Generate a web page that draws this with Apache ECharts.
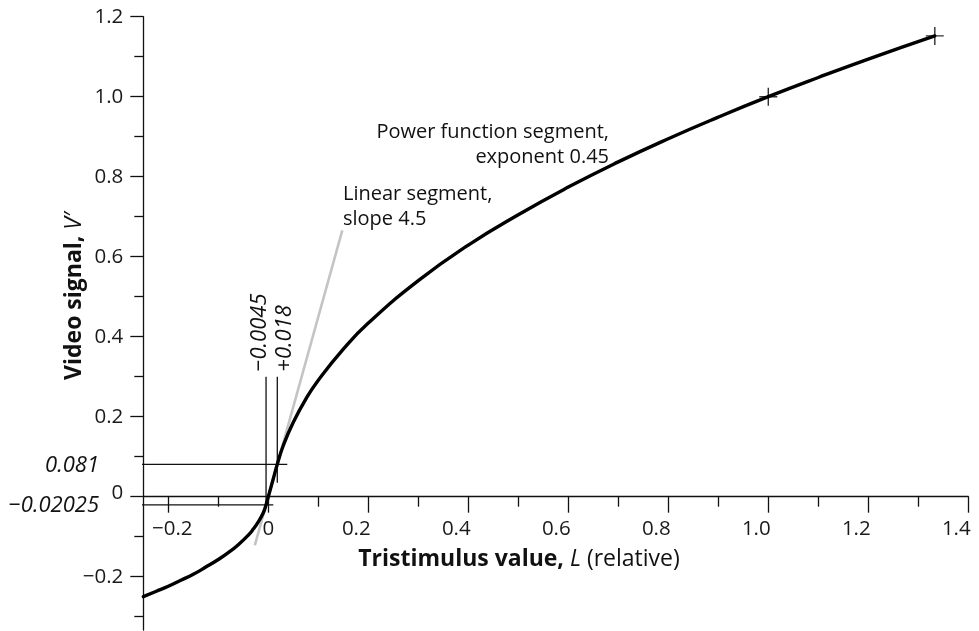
<!DOCTYPE html>
<html>
<head>
<meta charset="utf-8">
<script src="https://cdn.jsdelivr.net/npm/echarts@6.0.0/dist/echarts.min.js"></script>
<style>
  html, body { margin: 0; padding: 0; background: #ffffff; }
  #chart { width: 979px; height: 631px; }
</style>
</head>
<body>
<div id="chart"></div>
<script>
// Transfer curve: tristimulus value L -> video signal V'
const curveL = [-0.25, -0.225, -0.2, -0.175, -0.15, -0.125, -0.1, -0.08, -0.06, -0.04, -0.03, -0.02, -0.01, -0.0045,
  0, 0.009, 0.018, 0.03, 0.05, 0.075, 0.1, 0.15, 0.2, 0.3, 0.4, 0.5, 0.6, 0.7, 0.8, 0.9, 1.0, 1.1, 1.2, 1.333];
const curveV = [-0.25, -0.237, -0.224, -0.209, -0.194, -0.176, -0.157, -0.140, -0.120, -0.096, -0.081, -0.063, -0.040, -0.02025,
  0, 0.0405, 0.081, 0.128, 0.186, 0.244, 0.291, 0.369, 0.434, 0.540, 0.629, 0.705, 0.774, 0.837, 0.895, 0.949, 1.0, 1.048, 1.094, 1.152];

// Extension of the linear segment (slope 4.5)
const linearL = [-0.027, 0.148];
const linearV = [-0.1215, 0.666];

// Marked points on the curve
const markL = [1.0, 1.333];
const markV = [1.0, 1.152];

// Breakpoints of the linear segment
const breakL = [-0.0045, 0.018];
const breakV = [-0.02025, 0.081];
const breakLText = ['\u22120.0045', '+0.018'];
const breakVText = ['\u22120.02025', '0.081'];

// Tick values
const xMajor = [-0.2, 0, 0.2, 0.4, 0.6, 0.8, 1.0, 1.2, 1.4];
const xMinor = [-0.1, 0.1, 0.3, 0.5, 0.7, 0.9, 1.1, 1.3];
const yMajor = [-0.2, 0, 0.2, 0.4, 0.6, 0.8, 1.0, 1.2];
const yMinor = [-0.3, -0.1, 0.1, 0.3, 0.5, 0.7, 0.9, 1.1];

const FONT = '"Open Sans", "DejaVu Sans", sans-serif';
const INK = '#111111';
const TICK_FS = 20.5;
const TITLE_FS = 23;
const NOTE_FS = 20;
const VALUE_FS = 22;

function fmt(v) {
  if (Math.abs(v) < 1e-9) return '0';
  const s = Math.abs(v).toFixed(1);
  return v < 0 ? '\u2212' + s : s;
}

const chart = echarts.init(document.getElementById('chart'), null, { renderer: 'canvas' });

const X_MIN = -0.25, X_MAX = 1.4, Y_MIN = -0.3333, Y_MAX = 1.2;
const GRID = { left: 143.3, right: 10.7, top: 16.7, bottom: 1 };
const plotH = 631 - GRID.top - GRID.bottom;
// the L axis crosses the V axis at V = 0
const xAxisOffset = -plotH * (0 - Y_MIN) / (Y_MAX - Y_MIN);
const axisLineStyle = { color: INK, width: 1.3 };

// guide extents along the other axis for each breakpoint
const vGuideSpan = [[-0.025, 0.30], [0.035, 0.30]];
const hGuideSpan = [[-0.327, 0.010], [-0.327, 0.038]];

const series = [];

// linear segment extension (grey)
series.push({
  type: 'line', silent: true, symbol: 'none', z: 2,
  data: linearL.map((l, i) => [l, linearV[i]]),
  lineStyle: { color: '#c4c4c4', width: 2.6 }
});

// vertical guides at the breakpoints
breakL.forEach((l, i) => {
  series.push({
    type: 'line', silent: true, symbol: 'none', clip: false, z: 3,
    data: [[l, vGuideSpan[i][0]], [l, vGuideSpan[i][1]]],
    lineStyle: { color: INK, width: 1.3 }
  });
});
// horizontal guides at the breakpoint signal levels
breakV.forEach((v, i) => {
  series.push({
    type: 'line', silent: true, symbol: 'none', clip: false, z: 3,
    data: [[hGuideSpan[i][0], v], [hGuideSpan[i][1], v]],
    lineStyle: { color: INK, width: 1.3 }
  });
});

// main transfer curve
series.push({
  type: 'line', silent: true, symbol: 'none', smooth: 0.5, z: 5,
  data: curveL.map((l, i) => [l, curveV[i]]),
  lineStyle: { color: '#000000', width: 3.4, cap: 'round', join: 'round' }
});

// cross marks
series.push({
  type: 'scatter', silent: true, z: 6,
  symbol: 'path://M9.2,0h1.6v20h-1.6z M0,9.2h20v1.6h-20z',
  symbolSize: 18,
  itemStyle: { color: '#000000' },
  data: markL.map((l, i) => [l, markV[i]])
});

const tickRich = function (extra) {
  return Object.assign({ fontFamily: FONT, fontSize: TICK_FS, color: '#1a1a1a' }, extra || {});
};

const option = {
  animation: false,
  backgroundColor: '#ffffff',
  grid: Object.assign({ containLabel: false, outerBoundsMode: 'none' }, GRID),
  xAxis: [
    {
      type: 'value', min: X_MIN, max: X_MAX, position: 'bottom', offset: xAxisOffset,
      axisLine: { show: true, onZero: false, lineStyle: axisLineStyle },
      axisTick: { show: true, customValues: xMajor, length: 16, lineStyle: axisLineStyle },
      axisLabel: {
        show: true, customValues: xMajor, margin: 22, color: '#1a1a1a',
        fontFamily: FONT, fontSize: TICK_FS, hideOverlap: false,
        formatter: function (v) {
          if (Math.abs(v) < 1e-9) return '{z|0}';
          return v < 0 ? '{n|' + fmt(v) + '}' : '{p|' + fmt(v) + '}';
        },
        rich: {
          z: tickRich(),
          n: tickRich({ padding: [0, 0, 0, 8] }),
          p: tickRich({ padding: [0, 24, 0, 0] })
        }
      },
      splitLine: { show: false }
    },
    {
      type: 'value', min: X_MIN, max: X_MAX, position: 'bottom', offset: xAxisOffset,
      axisLine: { show: false, onZero: false },
      axisTick: { show: true, customValues: xMinor, length: 10, lineStyle: axisLineStyle },
      axisLabel: { show: false },
      splitLine: { show: false }
    }
  ],
  yAxis: [
    {
      type: 'value', min: Y_MIN, max: Y_MAX, position: 'left',
      axisLine: { show: true, onZero: false, lineStyle: axisLineStyle },
      axisTick: { show: true, customValues: yMajor, length: 13, lineStyle: axisLineStyle },
      axisLabel: {
        show: true, customValues: yMajor, margin: 20, color: '#1a1a1a',
        fontFamily: FONT, fontSize: TICK_FS, hideOverlap: false,
        formatter: function (v) {
          if (Math.abs(v) < 1e-9) return '{z|0}';
          return '{p|' + fmt(v) + '}';
        },
        rich: {
          z: tickRich({ padding: [0, 0, 8, 0] }),
          p: tickRich()
        }
      },
      splitLine: { show: false }
    },
    {
      type: 'value', min: Y_MIN, max: Y_MAX, position: 'left',
      axisLine: { show: false, onZero: false },
      axisTick: { show: true, customValues: yMinor, length: 9, lineStyle: axisLineStyle },
      axisLabel: { show: false },
      splitLine: { show: false }
    }
  ],
  series: series
};

chart.setOption(option);

// Text annotations placed from data coordinates
function px(l, v) { return chart.convertToPixel({ xAxisIndex: 0, yAxisIndex: 0 }, [l, v]); }

const gfx = [];
// axis titles
gfx.push({
  type: 'text', x: 519, y: 559, silent: true,
  style: {
    text: '{b|Tristimulus value, }{i|L}{r| (relative)}',
    align: 'center', verticalAlign: 'middle',
    rich: {
      b: { fontFamily: FONT, fontSize: TITLE_FS, fontWeight: 'bold', fill: '#111111' },
      i: { fontFamily: FONT, fontSize: TITLE_FS, fontStyle: 'italic', fill: '#111111' },
      r: { fontFamily: FONT, fontSize: TITLE_FS, fill: '#111111' }
    }
  }
});
gfx.push({
  type: 'text', x: 74, y: 296, rotation: Math.PI / 2, silent: true,
  style: {
    text: '{b|Video signal, }{i|V\u2032}',
    align: 'center', verticalAlign: 'middle',
    rich: {
      b: { fontFamily: FONT, fontSize: TITLE_FS, fontWeight: 'bold', fill: '#111111' },
      i: { fontFamily: FONT, fontSize: TITLE_FS, fontStyle: 'italic', fill: '#111111' }
    }
  }
});

// breakpoint value labels on the signal axis
breakV.forEach((v, i) => {
  const p = px(-0.25, v);
  gfx.push({
    type: 'text', x: 99, y: p[1] + 1, silent: true,
    style: {
      text: breakVText[i], align: 'right', verticalAlign: 'middle',
      font: 'italic ' + VALUE_FS + 'px ' + FONT, fill: '#111111'
    }
  });
});

// breakpoint labels on the tristimulus axis (vertical)
const breakLOffset = [-6, 7];
breakL.forEach((l, i) => {
  const p = px(l, 0.31);
  gfx.push({
    type: 'text', x: p[0] + breakLOffset[i], y: p[1] - 1, rotation: Math.PI / 2, silent: true,
    style: {
      text: breakLText[i], align: 'left', verticalAlign: 'middle',
      font: 'italic ' + VALUE_FS + 'px ' + FONT, fill: '#111111'
    }
  });
});

// segment annotations
gfx.push({
  type: 'text', x: 609, y: 120, silent: true,
  style: {
    text: 'Power function segment,\nexponent 0.45', align: 'right', verticalAlign: 'top',
    font: NOTE_FS + 'px ' + FONT, lineHeight: 25, fill: '#111111'
  }
});
gfx.push({
  type: 'text', x: 343, y: 182, silent: true,
  style: {
    text: 'Linear segment,\nslope 4.5', align: 'left', verticalAlign: 'top',
    font: NOTE_FS + 'px ' + FONT, lineHeight: 25, fill: '#111111'
  }
});

chart.setOption({ graphic: gfx });
</script>
</body>
</html>
